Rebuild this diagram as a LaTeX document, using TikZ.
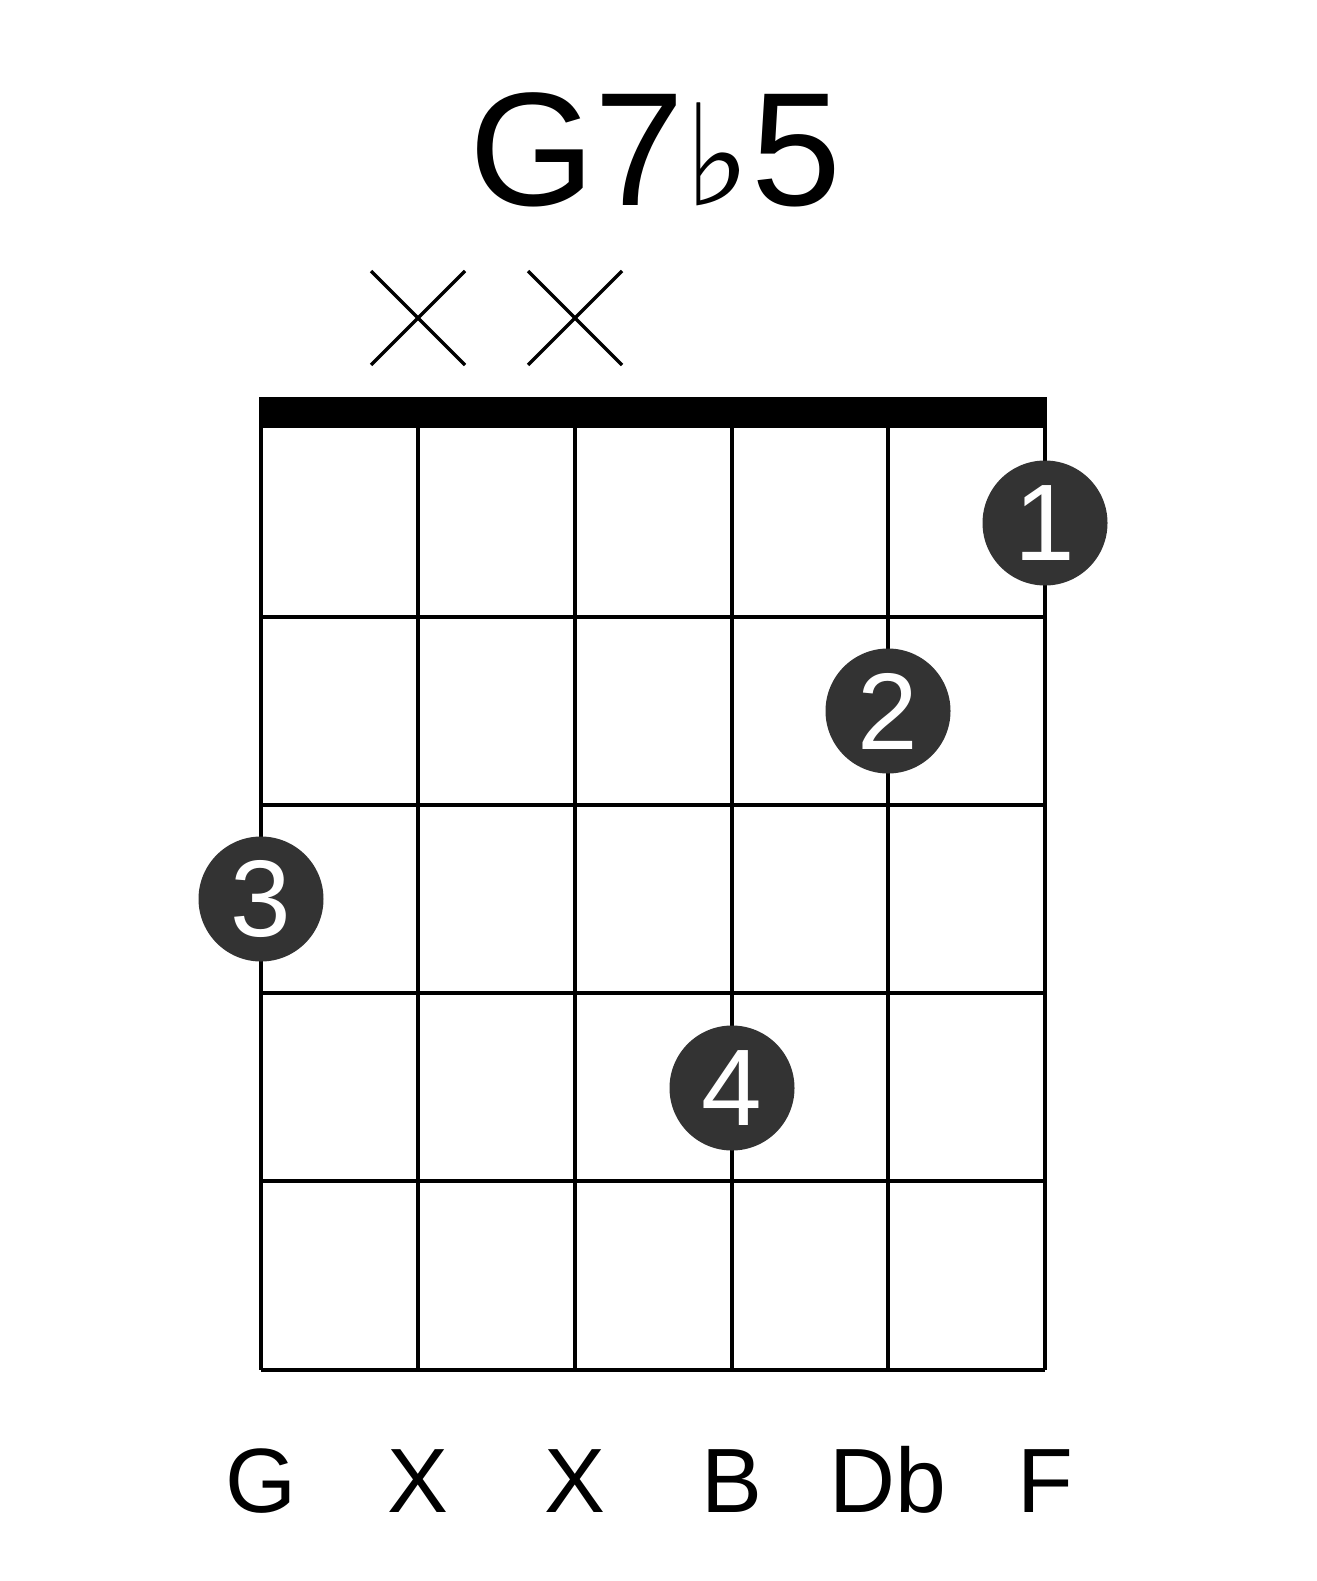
\documentclass[tikz,border=0pt]{standalone}
\usepackage{fontspec}
\setmainfont{Liberation Sans}
\newfontfamily\symfont{DejaVu Sans}
\usetikzlibrary{positioning}

\tikzset{
    fingerdot/.style={circle,fill=black!80,minimum size=125*0.02cm,inner sep=0pt,text=white,font=\fontsize{62}{62}\selectfont},
    stringlabel/.style={font=\fontsize{52}{52}\selectfont,anchor=base},
    gridline/.style={line width=2.3pt}
}

\begin{document}
\begin{tikzpicture}[x=0.02cm,y=-0.02cm]
            \useasboundingbox (0,0) rectangle (1317,1581);

            % chord name
            \node (title) at (655,150) {\fontsize{92}{92}\selectfont G7{\symfont\fontsize{80}{80}\selectfont ♭}5};

            % muted strings
            \foreach \x in {418,575} {
                \draw[line width=2pt] (\x-47,271) -- (\x+47,365);
                \draw[line width=2pt] (\x-47,365) -- (\x+47,271);
            }

            % nut and grid
            \fill (259,397) rectangle (1047,428);
            \foreach \x in {261,418,575,732,888,1045}
                \draw[gridline] (\x,428) -- (\x,1370);
            \foreach \y in {617,805,993,1181,1370}
                \draw[gridline] (261,\y) -- (1045,\y);

            % fingers
            \node[fingerdot] (f1) at (1045,523) {1};
            \node[fingerdot] (f2) at (888,711) {2};
            \node[fingerdot] (f3) at (261,899) {3};
            \node[fingerdot] (f4) at (732,1088) {4};

            % notes
            \node[stringlabel] (n1) at (261,1512) {G};
            \node[stringlabel] (n2) at (418,1512) {X};
            \node[stringlabel] (n3) at (575,1512) {X};
            \node[stringlabel] (n4) at (732,1512) {B};
            \node[stringlabel] (n5) at (888,1512) {Db};
            \node[stringlabel] (n6) at (1045,1512) {F};
        \end{tikzpicture}
\end{document}
